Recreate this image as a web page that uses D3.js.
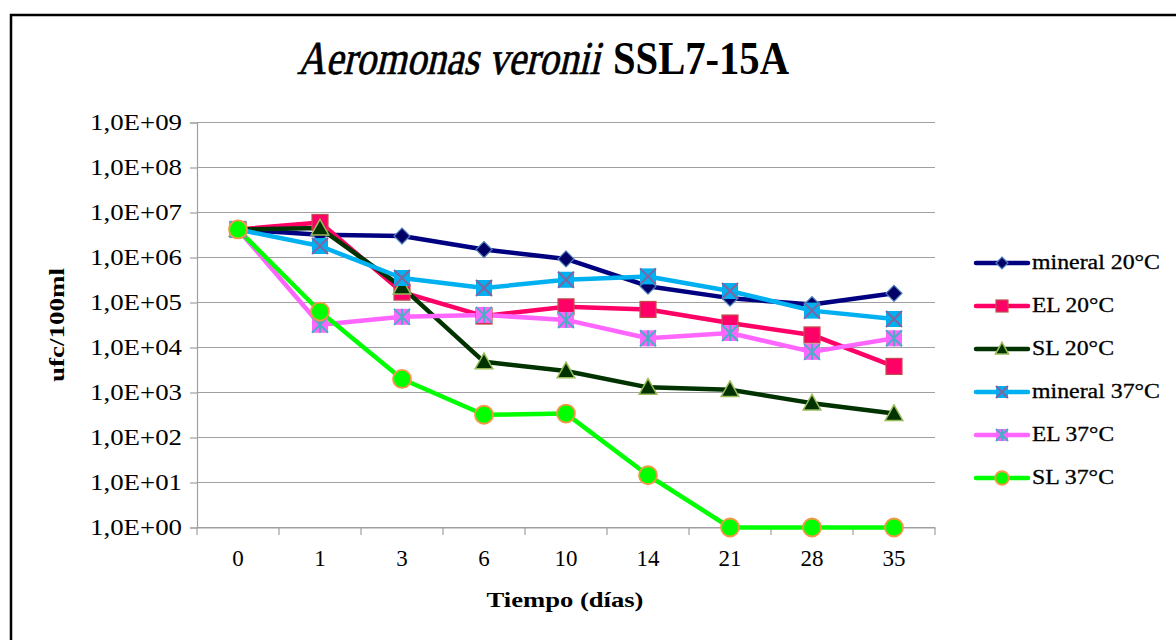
<!DOCTYPE html>
<html><head><meta charset="utf-8">
<script src="https://cdn.jsdelivr.net/npm/d3@7"></script>
<style>body{margin:0;background:#fff;}svg{display:block;}
svg text{font-family:'Liberation Serif','Times New Roman',Tinos,serif;}</style>
</head><body>
<svg id="c" width="1176" height="640"></svg>
<script>
const categories = ["0","1","3","6","10","14","21","28","35"];
const yTicks = [1,1e1,1e2,1e3,1e4,1e5,1e6,1e7,1e8,1e9];
const mineral20 = [4.2e6,3.2e6,3.0e6,1.5e6,9.3e5,2.3e5,1.25e5,9.0e4,1.6e5];
const el20      = [4.2e6,6.0e6,1.7e5,5.0e4,8.0e4,7.0e4,3.5e4,1.9e4,3.8e3];
const sl20      = [4.2e6,4.5e6,2.2e5,4.8e3,3.0e3,1.3e3,1.15e3,5.8e2,3.4e2];
const mineral37 = [4.2e6,1.8e6,3.5e5,2.1e5,3.2e5,3.8e5,1.8e5,6.6e4,4.3e4];
const el37      = [4.2e6,3.2e4,4.8e4,5.3e4,4.1e4,1.6e4,2.1e4,8.0e3,1.6e4];
const sl37      = [4.2e6,6.3e4,2.0e3,3.2e2,3.4e2,14.5,1,1,1];
const seriesNames = ["mineral 20°C","EL 20°C","SL 20°C","mineral 37°C","EL 37°C","SL 37°C"];

const styles = [
  {line:"#000080", fill:"#000066", stroke:"#4F81BD", marker:"diamond"},
  {line:"#FF0066", fill:"#FF0066", stroke:"#C0504D", marker:"square"},
  {line:"#003300", fill:"#003300", stroke:"#9BBB59", marker:"triangle"},
  {line:"#00B0F0", fill:"#00B0F0", stroke:"#8064A2", marker:"xsquare"},
  {line:"#FF66FF", fill:"#FF66FF", stroke:"#4BACC6", marker:"star"},
  {line:"#00FF00", fill:"#00FF00", stroke:"#F79646", marker:"circle"}
];
const allSeries = [mineral20, el20, sl20, mineral37, el37, sl37];
const FONT = "'Liberation Serif','Times New Roman',Tinos,serif";

const svg = d3.select("#c");
svg.append("rect").attr("x",11).attr("y",15).attr("width",1180).attr("height",700)
  .attr("fill","none").attr("stroke","#000").attr("stroke-width",2.5);

const x = d3.scaleBand().domain(categories).range([197,935]).padding(0);
const y = d3.scaleLog().domain([1,1e9]).range([527.5,122.5]);
const cx = c => x(c) + x.bandwidth()/2;

svg.append("g").selectAll("line").data(yTicks).join("line")
  .attr("x1",197).attr("x2",935).attr("y1",d=>y(d)).attr("y2",d=>y(d))
  .attr("stroke","#A0A0A0").attr("stroke-width",1.2);

const fmt = d => "1,0E+" + String(Math.round(Math.log10(d))).padStart(2,"0");
const yAxis = d3.axisLeft(y).tickValues(yTicks).tickFormat(fmt).tickSize(7).tickPadding(8);
const gy = svg.append("g").attr("transform","translate(197,0)").call(yAxis);
gy.attr("font-family",FONT);
gy.select(".domain").attr("stroke","#A0A0A0").attr("stroke-width",1.2);
gy.selectAll(".tick line").attr("stroke","#A0A0A0").attr("stroke-width",1.2);
gy.selectAll(".tick text").attr("font-size",23).attr("fill","#000")
  .attr("textLength",92).attr("lengthAdjust","spacingAndGlyphs");

const xAxis = d3.axisBottom(x).tickSize(0).tickPadding(22);
const gx = svg.append("g").attr("transform","translate(0,527.5)").call(xAxis);
gx.attr("font-family",FONT);
gx.select(".domain").attr("stroke","#A0A0A0").attr("stroke-width",1.2);
gx.selectAll(".tick text").attr("font-size",23).attr("fill","#000");
const bounds = categories.map(c=>x(c)).concat([935]);
svg.append("g").selectAll("line").data(bounds).join("line")
  .attr("x1",d=>d).attr("x2",d=>d).attr("y1",527.5).attr("y2",535)
  .attr("stroke","#A0A0A0").attr("stroke-width",1.2);

const lineGen = d3.line().x((d,i)=>cx(categories[i])).y(d=>y(d));
allSeries.forEach((s,k)=>{
  svg.append("path").datum(s).attr("d",lineGen).attr("fill","none")
    .attr("stroke",styles[k].line).attr("stroke-width",4.5).attr("stroke-linejoin","round");
});

function drawMarker(g, type, st, px, py, scale){
  const s = scale||1;
  if(type==="diamond"){
    const r=8*s;
    g.append("path").attr("d",`M${px},${py-r}L${px+r},${py}L${px},${py+r}L${px-r},${py}Z`)
      .attr("fill",st.fill).attr("stroke",st.stroke).attr("stroke-width",1.2);
  } else if(type==="square"){
    const h=8*s;
    g.append("rect").attr("x",px-h).attr("y",py-h).attr("width",2*h).attr("height",2*h)
      .attr("fill",st.fill).attr("stroke",st.stroke).attr("stroke-width",1.2);
  } else if(type==="triangle"){
    const h=8*s;
    g.append("path").attr("d",`M${px},${py-h*1.1}L${px+h*1.1},${py+h*0.85}L${px-h*1.1},${py+h*0.85}Z`)
      .attr("fill",st.fill).attr("stroke",st.stroke).attr("stroke-width",1.5);
  } else if(type==="xsquare"){
    const h=8*s;
    g.append("rect").attr("x",px-h).attr("y",py-h).attr("width",2*h).attr("height",2*h)
      .attr("fill",st.fill);
    g.append("path").attr("d",`M${px-h},${py-h}L${px+h},${py+h}M${px+h},${py-h}L${px-h},${py+h}`)
      .attr("stroke",st.stroke).attr("stroke-width",2);
  } else if(type==="star"){
    const h=8*s;
    g.append("rect").attr("x",px-h).attr("y",py-h).attr("width",2*h).attr("height",2*h)
      .attr("fill",st.fill);
    g.append("path").attr("d",`M${px-h},${py-h}L${px+h},${py+h}M${px+h},${py-h}L${px-h},${py+h}M${px},${py-h}L${px},${py+h}`)
      .attr("stroke",st.stroke).attr("stroke-width",2);
  } else if(type==="circle"){
    g.append("circle").attr("cx",px).attr("cy",py).attr("r",9*s)
      .attr("fill",st.fill).attr("stroke",st.stroke).attr("stroke-width",1.8);
  }
}

allSeries.forEach((s,k)=>{
  const g = svg.append("g");
  s.forEach((v,i)=>drawMarker(g, styles[k].marker, styles[k], cx(categories[i]), y(v), 1));
});

const leg = svg.append("g");
const legY = [263,306,349,392,435,478];
seriesNames.forEach((n,k)=>{
  const ly = legY[k];
  leg.append("line").attr("x1",976).attr("x2",1028).attr("y1",ly).attr("y2",ly)
    .attr("stroke",styles[k].line).attr("stroke-width",4.5).attr("stroke-linecap","round");
  drawMarker(leg, styles[k].marker, styles[k], 1002, ly, 0.75);
  const t = leg.append("text").attr("x",1032).attr("y",ly+6).attr("font-size",20).attr("fill","#000")
    .attr("stroke","#000").attr("stroke-width",0.3).text(n);
  const w = n.startsWith("mineral") ? 128 : 82;
  t.attr("textLength",w).attr("lengthAdjust","spacingAndGlyphs");
});

svg.append("text").attr("transform","translate(297,74) skewX(-13)").attr("x",0).attr("y",0)
  .attr("font-size",47).attr("fill","#000").attr("stroke","#000").attr("stroke-width",0.7)
  .attr("textLength",303).attr("lengthAdjust","spacingAndGlyphs").text("Aeromonas veronii");
svg.append("text").attr("x",613).attr("y",74).attr("font-size",47).attr("font-weight","bold")
  .attr("fill","#000")
  .attr("textLength",176).attr("lengthAdjust","spacingAndGlyphs").text("SSL7-15A");

svg.append("text").attr("transform","translate(64,325) rotate(-90)").attr("text-anchor","middle")
  .attr("font-size",21).attr("font-weight","bold").attr("fill","#000")
  .attr("textLength",114).attr("lengthAdjust","spacingAndGlyphs").text("ufc/100ml");
svg.append("text").attr("x",565).attr("y",607).attr("text-anchor","middle")
  .attr("font-size",21).attr("font-weight","bold").attr("fill","#000")
  .attr("textLength",157).attr("lengthAdjust","spacingAndGlyphs").text("Tiempo (días)");
</script>
</body></html>
